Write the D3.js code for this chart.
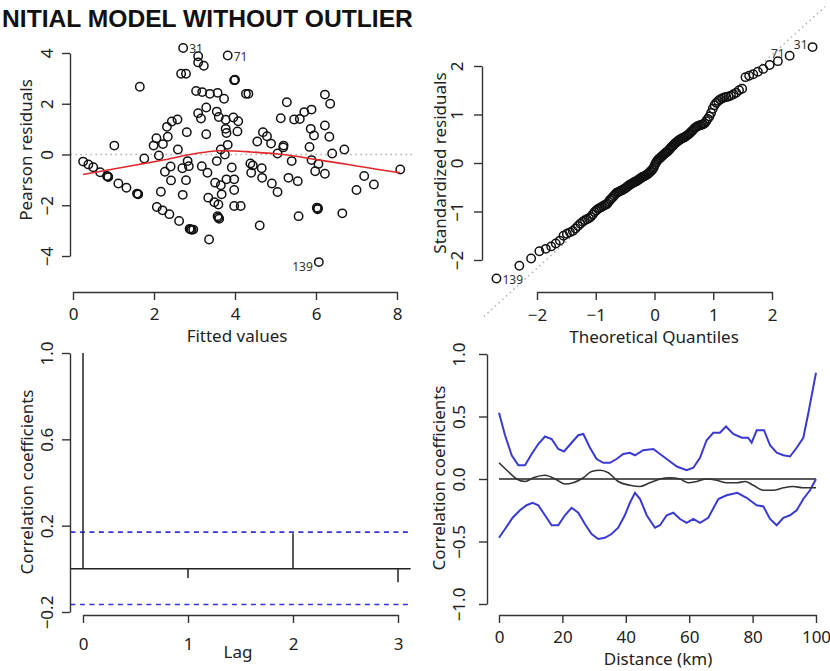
<!DOCTYPE html>
<html><head><meta charset="utf-8">
<script src="https://cdn.jsdelivr.net/npm/d3@7"></script>
<style>body{margin:0;background:#fff}svg{display:block}</style>
</head><body>
<script>
// ================= DATA =================
const titleText = "NITIAL MODEL WITHOUT OUTLIER";   // as visible in the reference (first letter is cropped there)

// Panel 1: Pearson residuals vs fitted values
const fittedValues = [0.25,0.38,0.50,0.67,0.84,0.87,1.02,1.12,1.32,1.58,1.61,1.65,1.76,1.99,2.06,2.07,2.12,2.17,2.21,2.22,2.27,2.32,2.34,2.38,2.41,2.42,2.44,2.58,2.59,2.62,2.67,2.70,2.71,2.72,2.79,2.79,2.81,2.83,2.86,2.88,2.93,2.97,
3.04,3.09,3.09,3.09,3.16,3.18,3.19,3.23,3.29,3.29,3.32,3.34,3.36,3.38,3.49,3.51,3.55,3.55,3.57,3.57,3.59,3.60,3.61,3.65,3.65,3.67,3.73,3.75,3.77,3.77,3.79,3.79,3.82,3.82,3.92,3.96,3.98,4.00,3.98,3.98,3.98,4.06,4.08,4.14,4.27,4.33,4.38,4.40,4.44,4.55,4.61,4.66,4.67,4.69,4.79,4.89,4.91,5.05,5.05,5.13,5.19,5.20,5.28,5.32,5.40,5.46,5.55,5.57,5.60,5.71,5.84,5.87,5.89,5.89,5.95,5.98,6.02,6.04,6.06,6.07,6.22,6.22,6.22,6.33,6.35,6.40,6.65,6.70,7.00,7.19,7.43,8.08,
2.90,6.05,1.60,3.59,0.86,3.99];
const pearsonResiduals = [-0.28,-0.39,-0.50,-0.70,-0.85,-0.89,0.35,-1.14,-1.31,-1.54,-1.57,2.67,-0.16,0.35,0.64,-2.07,-0.04,-1.47,-2.20,0.41,-0.68,1.09,0.70,-2.35,-0.47,-1.02,1.30,1.38,0.20,-2.62,3.18,-0.54,-1.59,4.20,3.18,-1.01,0.88,-0.26,-0.46,-2.93,-2.97,-2.96,
2.50,3.87,3.63,1.63,1.42,-0.46,2.46,3.50,1.85,0.80,-0.72,-1.70,-3.35,2.39,-1.88,-1.11,1.69,-0.26,2.43,-2.43,-1.97,1.48,-2.53,0.20,-1.21,-1.57,2.20,0.00,1.37,1.01,0.85,-0.98,3.90,0.38,-0.51,1.46,2.93,2.95,-0.98,-1.40,-2.03,0.91,1.31,-2.03,2.39,2.39,-0.35,-0.72,-0.43,0.51,-2.80,-0.54,-0.92,0.88,0.72,0.43,-1.14,0.04,-1.48,1.43,0.28,0.35,2.06,-0.92,-0.26,1.38,-1.05,-2.43,1.40,1.67,0.30,1.01,1.77,-0.22,0.75,-0.66,-2.10,-2.16,-0.37,-4.24,2.36,1.14,-0.76,0.70,2.00,0.04,-2.32,0.20,-1.40,-0.85,-1.18,-0.59,
-2.95,-2.12,-1.56,-2.48,-0.87,2.93];
const residLabelIds = ["31","71","139"];   // two largest, then smallest
const lowessX = [0.25,1.0,1.7,2.3,2.89,3.3,3.6,4.0,4.4,5.0,5.5,6.0,6.5,7.0,7.5,8.08];
const lowessY = [-0.79,-0.57,-0.37,-0.2,0.0,0.1,0.15,0.14,0.1,0.03,-0.07,-0.2,-0.32,-0.45,-0.58,-0.72];
const fittedTicks = [0,2,4,6,8];
const residTicks = [-4,-2,0,2,4];

// Panel 2: Normal Q-Q (sorted standardized residuals)
const stdResiduals = [
-2.38,-2.12,-1.97,-1.82,-1.77,-1.72,-1.66,-1.60,-1.50,-1.46,
-1.43,-1.40,-1.35,-1.30,-1.25,-1.21,-1.18,-1.16,-1.14,-1.11,
-1.06,-1.01,-0.98,-0.95,-0.93,-0.91,-0.89,-0.87,-0.86,-0.84,
-0.80,-0.76,-0.73,-0.70,-0.67,-0.64,-0.61,-0.60,-0.59,-0.57,
-0.56,-0.55,-0.53,-0.52,-0.50,-0.48,-0.46,-0.45,-0.43,-0.42,
-0.40,-0.39,-0.38,-0.37,-0.35,-0.34,-0.32,-0.31,-0.29,-0.28,
-0.27,-0.26,-0.24,-0.23,-0.21,-0.19,-0.17,-0.15,-0.12,-0.08,
-0.03,0.01,0.04,0.07,0.09,0.11,0.13,0.15,0.17,0.19,
0.21,0.22,0.24,0.27,0.29,0.32,0.34,0.36,0.39,0.41,
0.43,0.45,0.47,0.48,0.50,0.51,0.52,0.53,0.55,0.57,
0.59,0.61,0.64,0.66,0.69,0.72,0.74,0.76,0.77,0.78,
0.79,0.80,0.82,0.86,0.91,0.96,1.03,1.12,1.19,1.24,
1.28,1.31,1.33,1.35,1.36,1.37,1.39,1.42,1.45,1.50,
1.53,1.77,1.80,1.83,1.88,1.94,2.02,2.10,2.21,2.39];
const qqLabelIds = ["139","71","31"];
const qqLineIntercept = 0.03, qqLineSlope = 1.1;
const quantileTicks = [-2,-1,0,1,2];
const stdTicks = [-2,-1,0,1,2];

// Panel 3: ACF
const lags = [0,1,2,3];
const acfValues = [1.0,-0.043,0.165,-0.062];
const acfCiUpper = 0.17, acfCiLower = -0.165;
const lagTicks = [0,1,2,3];
const acfTicks = [-0.2,0.2,0.6,1.0];

// Panel 4: spatial correlogram with envelope
const upperDist = [0,1.9,4.0,6.1,8.2,10.3,12.4,14.5,16.6,18.7,20.5,22.9,25.0,26.6,28.7,30.8,32.9,35.0,37.1,39.2,41.3,42.9,45.5,48.7,52.9,56.1,59.2,61.3,63.4,65.5,67.6,69.7,71.6,73.9,76.6,78.6,79.7,81.3,83.6,85.5,87.6,89.7,91.8,93.9,96.0,97.6,100];
const upperCorr = [0.53,0.35,0.19,0.11,0.11,0.20,0.28,0.34,0.32,0.24,0.22,0.29,0.35,0.36,0.25,0.16,0.13,0.13,0.16,0.20,0.21,0.19,0.23,0.24,0.16,0.10,0.07,0.09,0.17,0.31,0.37,0.37,0.42,0.36,0.33,0.33,0.29,0.39,0.39,0.27,0.21,0.19,0.18,0.25,0.33,0.53,0.85];
const lowerDist = [0,1.9,4.3,6.6,8.7,10.6,12.4,14.5,16.6,18.7,20.8,22.9,25.0,27.1,29.2,31.3,33.4,35.5,37.6,39.7,41.3,42.9,44.5,46.6,49.2,50.8,52.9,55.0,57.1,59.2,61.3,63.4,66.0,69.2,71.8,75.2,78.1,81.3,83.4,85.5,87.6,89.7,91.8,93.9,96.0,98.1,100];
const lowerCorr = [-0.47,-0.40,-0.31,-0.25,-0.21,-0.19,-0.21,-0.29,-0.37,-0.37,-0.29,-0.23,-0.27,-0.36,-0.44,-0.48,-0.47,-0.44,-0.39,-0.29,-0.19,-0.11,-0.16,-0.29,-0.39,-0.37,-0.29,-0.27,-0.32,-0.35,-0.32,-0.35,-0.31,-0.16,-0.13,-0.11,-0.15,-0.21,-0.22,-0.32,-0.37,-0.31,-0.29,-0.25,-0.16,-0.09,0.0];
const corrDist = [0,2.9,5.6,8.2,10.8,14.5,17.7,20.8,23.4,26.6,29.2,31.9,34.5,37.6,41.3,44.5,47.6,50.8,53.9,57.1,59.7,62.4,65.5,68.7,71.8,75.0,77.6,80.2,83.4,86.5,89.7,92.8,96.0,100];
const corrValues = [0.13,0.06,0.0,-0.02,0.01,0.03,0.0,-0.04,-0.03,0.01,0.06,0.07,0.05,-0.02,-0.05,-0.06,-0.03,0.0,0.01,0.0,-0.03,-0.02,0.0,-0.01,-0.03,-0.03,-0.02,-0.05,-0.09,-0.09,-0.07,-0.06,-0.07,-0.07];
const distTicks = [0,20,40,60,80,100];
const corTicks = [-1,-0.5,0,0.5,1];

// ================= HELPERS =================
function qnorm(p){
  const a=[-3.969683028665376e+01,2.209460984245205e+02,-2.759285104469687e+02,1.383577518672690e+02,-3.066479806614716e+01,2.506628277459239e+00];
  const b=[-5.447609879822406e+01,1.615858368580409e+02,-1.556989798598866e+02,6.680131188771972e+01,-1.328068155288572e+01];
  const c=[-7.784894002430293e-03,-3.223964580411365e-01,-2.400758277161838e+00,-2.549732539343734e+00,4.374664141464968e+00,2.938163982698783e+00];
  const d=[7.784695709041462e-03,3.224671290700398e-01,2.445134137142996e+00,3.754408661907416e+00];
  const pl=0.02425; let q,r;
  if(p<pl){q=Math.sqrt(-2*Math.log(p));return (((((c[0]*q+c[1])*q+c[2])*q+c[3])*q+c[4])*q+c[5])/((((d[0]*q+d[1])*q+d[2])*q+d[3])*q+1);}
  if(p>1-pl){q=Math.sqrt(-2*Math.log(1-p));return -(((((c[0]*q+c[1])*q+c[2])*q+c[3])*q+c[4])*q+c[5])/((((d[0]*q+d[1])*q+d[2])*q+d[3])*q+1);}
  q=p-0.5;r=q*q;return (((((a[0]*r+a[1])*r+a[2])*r+a[3])*r+a[4])*r+a[5])*q/(((((b[0]*r+b[1])*r+b[2])*r+b[3])*r+b[4])*r+1);
}
const FONT = "'Noto Sans', 'DejaVu Sans', sans-serif";
const FS = 17;
const AXC = "#333";
const minusFmt = d => (d < 0 ? "\u2212" : "") + Math.abs(d);
const fmt1 = d => (d < 0 ? "\u2212" : "") + Math.abs(d).toFixed(1);
function pad(ext){const r=ext[1]-ext[0];return [ext[0]-0.04*r, ext[1]+0.04*r];}

const svg = d3.select("body").append("svg").attr("width",830).attr("height",671)
  .attr("font-family",FONT);

function styleAxis(g){
  g.select(".domain").attr("stroke",AXC).attr("stroke-width",1.4);
  g.selectAll(".tick line").attr("stroke",AXC).attr("stroke-width",1.4);
  g.selectAll(".tick text").attr("fill","#222").attr("font-size",FS).attr("font-family",FONT);
}
function leftAxis(scale, ticks, x, fmt, off){
  const g = svg.append("g").attr("transform",`translate(${x},0)`)
    .call(d3.axisLeft(scale).tickValues(ticks).tickSize(8).tickSizeOuter(0).tickFormat(fmt));
  styleAxis(g);
  g.selectAll(".tick text").attr("transform","rotate(-90)").attr("x",0).attr("y",-off)
    .attr("dy",0).attr("text-anchor","middle");
  return g;
}
function bottomAxis(scale, ticks, y, fmt, off){
  const g = svg.append("g").attr("transform",`translate(0,${y})`)
    .call(d3.axisBottom(scale).tickValues(ticks).tickSize(8).tickSizeOuter(0).tickFormat(fmt));
  styleAxis(g);
  g.selectAll(".tick text").attr("y",off).attr("dy",0);
  return g;
}
function xTitle(text,x,y){
  svg.append("text").attr("x",x).attr("y",y).attr("text-anchor","middle")
    .attr("font-size",FS).attr("fill","#222").text(text);
}
function yTitle(text,x,y){
  svg.append("text").attr("transform",`translate(${x},${y}) rotate(-90)`).attr("text-anchor","middle")
    .attr("font-size",FS).attr("fill","#222").text(text);
}

// ================= TITLE =================
{
  const tf = "'Liberation Sans', Arial, sans-serif";
  const probe = svg.append("text").attr("font-family",tf).attr("font-weight","bold").attr("font-size",24).text(titleText);
  const w = probe.node().getComputedTextLength();
  probe.remove();
  const fs = 24 * 411 / w;        // title spans x = 2 .. 413
  svg.append("text").attr("x",2).attr("y",27).attr("text-anchor","start")
    .attr("font-family",tf).attr("font-weight","bold")
    .attr("font-size",fs).attr("fill","#111").text(titleText);
}

// ================= PANEL 1 =================
{
  const x = d3.scaleLinear().domain([0,8]).range([73,397]);
  const y = d3.scaleLinear().domain([-4,4]).range([256,53]);
  const xr = pad(d3.extent(fittedValues));
  svg.append("line").attr("x1",x(xr[0])).attr("x2",x(xr[1])).attr("y1",y(0)).attr("y2",y(0))
    .attr("stroke","#b0b0b0").attr("stroke-width",1.5).attr("stroke-dasharray","1.5,3.5");
  const pts = fittedValues.map((f,i)=>({f, r:pearsonResiduals[i]}));
  svg.append("g").selectAll("circle").data(pts).join("circle")
    .attr("cx",d=>x(d.f)).attr("cy",d=>y(d.r)).attr("r",4.2)
    .attr("fill","none").attr("stroke","#111").attr("stroke-width",1.5);
  const lw = lowessX.map((v,i)=>[v,lowessY[i]]);
  svg.append("path").attr("d",d3.line().x(d=>x(d[0])).y(d=>y(d[1])).curve(d3.curveMonotoneX)(lw))
    .attr("fill","none").attr("stroke","#e3262a").attr("stroke-width",1.6);
  const sorted = pts.slice().sort((a,b)=>b.r-a.r);
  const lab = [sorted[0], sorted[1], sorted[sorted.length-1]];
  const mid = (xr[0]+xr[1])/2;
  lab.forEach((p,i)=>{
    const left = p.f > mid;
    svg.append("text").attr("x",x(p.f)+(left?-6:6)).attr("y",y(p.r)+(p.r<0?9:5))
      .attr("text-anchor",left?"end":"start").attr("font-size",12).attr("fill","#333")
      .text(residLabelIds[i]);
  });
  leftAxis(y, residTicks, 70, minusFmt, 17);
  bottomAxis(x, fittedTicks, 292, minusFmt, 28);
  xTitle("Fitted values", 237, 342);
  yTitle("Pearson residuals", 32, 150);
}

// ================= PANEL 2 =================
{
  const x = d3.scaleLinear().domain([-2,2]).range([537,772]);
  const y = d3.scaleLinear().domain([-2,2]).range([260,66]);
  const n = stdResiduals.length;
  const theo = stdResiduals.map((v,i)=>qnorm((i+0.5)/n));
  const xr = pad(d3.extent(theo));
  svg.append("line").attr("x1",x(xr[0])).attr("x2",x(xr[1]))
    .attr("y1",y(qqLineIntercept+qqLineSlope*xr[0])).attr("y2",y(qqLineIntercept+qqLineSlope*xr[1]))
    .attr("stroke","#b0b0b0").attr("stroke-width",1.5).attr("stroke-dasharray","1.5,3.5");
  svg.append("g").selectAll("circle").data(stdResiduals).join("circle")
    .attr("cx",(d,i)=>x(theo[i])).attr("cy",d=>y(d)).attr("r",4.2)
    .attr("fill","none").attr("stroke","#111").attr("stroke-width",1.5);
  const idx = [0, n-2, n-1];
  idx.forEach((k,i)=>{
    const left = theo[k] > 0;
    svg.append("text").attr("x",x(theo[k])+(left?-5:6)).attr("y",y(stdResiduals[k])+(left?2:6))
      .attr("text-anchor",left?"end":"start").attr("font-size",12).attr("fill","#333")
      .text(qqLabelIds[i]);
  });
  leftAxis(y, stdTicks, 482, minusFmt, 19);
  bottomAxis(x, quantileTicks, 292, minusFmt, 29);
  xTitle("Theoretical Quantiles", 654, 343);
  yTitle("Standardized residuals", 446, 163);
}

// ================= PANEL 3 =================
{
  const x = d3.scaleLinear().domain([0,3]).range([83,398]);
  const y = d3.scaleLinear().domain([-0.2,1.0]).range([612,353]);
  const xr = pad(d3.extent(lags));
  svg.append("line").attr("x1",x(xr[0])).attr("x2",x(xr[1])).attr("y1",y(0)).attr("y2",y(0))
    .attr("stroke","#222").attr("stroke-width",1.5);
  [acfCiUpper, acfCiLower].forEach(c=>{
    svg.append("line").attr("x1",x(xr[0])).attr("x2",x(xr[1])).attr("y1",y(c)).attr("y2",y(c))
      .attr("stroke","#3434dc").attr("stroke-width",1.6).attr("stroke-dasharray","5,4.5");
  });
  svg.append("g").selectAll("line").data(lags).join("line")
    .attr("x1",d=>x(d)).attr("x2",d=>x(d)).attr("y1",y(0)).attr("y2",(d,i)=>y(acfValues[i]))
    .attr("stroke","#222").attr("stroke-width",1.5);
  leftAxis(y, acfTicks, 70, fmt1, 17);
  bottomAxis(x, lagTicks, 615, minusFmt, 35);
  xTitle("Lag", 238, 658);
  yTitle("Correlation coefficients", 33, 482);
}

// ================= PANEL 4 =================
{
  const x = d3.scaleLinear().domain([0,100]).range([499,816]);
  const y = d3.scaleLinear().domain([-1,1]).range([604,354]);
  svg.append("line").attr("x1",x(0)).attr("x2",x(100)).attr("y1",y(0)).attr("y2",y(0))
    .attr("stroke","#222").attr("stroke-width",1.5);
  const line = d3.line().x(d=>x(d[0])).y(d=>y(d[1]));
  svg.append("path").attr("d",line(upperDist.map((d,i)=>[d,upperCorr[i]])))
    .attr("fill","none").attr("stroke","#3a3ad2").attr("stroke-width",2);
  svg.append("path").attr("d",line(lowerDist.map((d,i)=>[d,lowerCorr[i]])))
    .attr("fill","none").attr("stroke","#3a3ad2").attr("stroke-width",2);
  svg.append("path").attr("d",line.curve(d3.curveMonotoneX)(corrDist.map((d,i)=>[d,corrValues[i]])))
    .attr("fill","none").attr("stroke","#333").attr("stroke-width",1.6);
  leftAxis(y, corTicks, 487, fmt1, 22);
  bottomAxis(x, distTicks, 615, minusFmt, 28);
  xTitle("Distance (km)", 658, 665);
  yTitle("Correlation coefficients", 445, 478);
}
</script>
</body></html>
